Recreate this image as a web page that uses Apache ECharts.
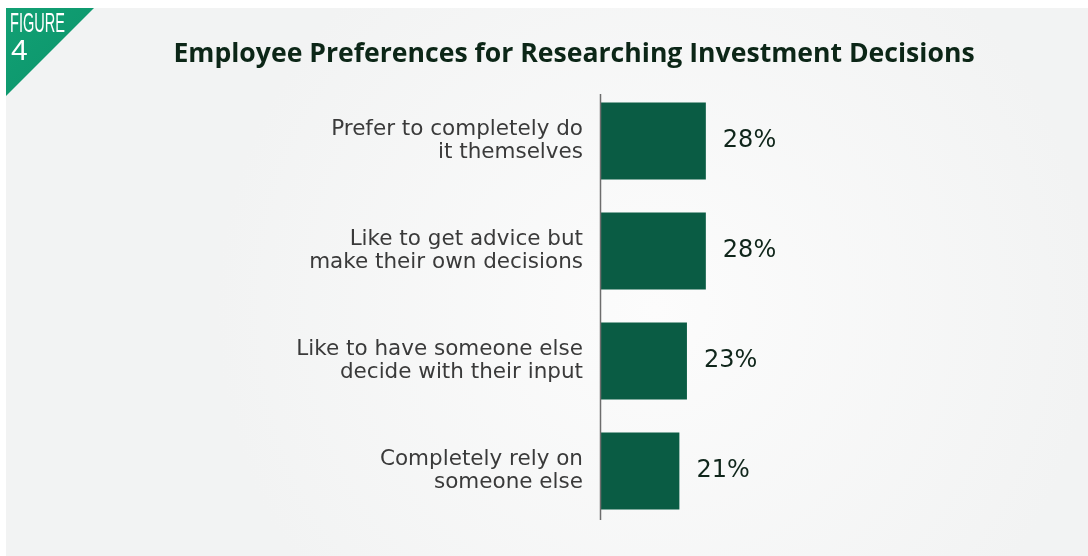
<!DOCTYPE html>
<html>
<head>
<meta charset="utf-8">
<script src="https://cdn.jsdelivr.net/npm/echarts@6/dist/echarts.min.js"></script>
<style>
  html, body { margin: 0; padding: 0; background: #ffffff; }
  #chart { width: 1088px; height: 556px; }
</style>
</head>
<body>
<div id="chart"></div>
<script>
// Survey answers, top to bottom
const categories = [
  'Prefer to completely do\nit themselves',
  'Like to get advice but\nmake their own decisions',
  'Like to have someone else\ndecide with their input',
  'Completely rely on\nsomeone else'
];
const shares = [28, 28, 23, 21];

const chart = echarts.init(document.getElementById('chart'), null, { renderer: 'canvas' });

const option = {
  animation: false,
  backgroundColor: '#ffffff',
  title: {
    text: 'Employee Preferences for Researching Investment Decisions',
    left: 569,
    top: 36,
    textAlign: 'center',
    textStyle: {
      fontFamily: 'Open Sans',
      fontWeight: 'bold',
      fontSize: 26.6,
      color: '#0c2617'
    }
  },
  graphic: [
    {
      type: 'rect',
      silent: true,
      z: -10,
      shape: { x: 6, y: 8, width: 1082, height: 548 },
      style: {
        fill: {
          type: 'radial', x: 0.6, y: 0.55, r: 0.8,
          colorStops: [
            { offset: 0, color: '#fcfcfc' },
            { offset: 1, color: '#f2f3f3' }
          ]
        }
      }
    },
    {
      type: 'polygon',
      silent: true,
      z: 5,
      shape: { points: [[6, 8], [94, 8], [6, 96]] },
      style: {
        fill: {
          type: 'linear', x: 0, y: 0, x2: 1, y2: 1,
          colorStops: [
            { offset: 0, color: '#12a074' },
            { offset: 1, color: '#0b946a' }
          ]
        }
      }
    },
    {
      type: 'text',
      silent: true,
      z: 6,
      x: 10, y: 10,
      scaleX: 0.52,
      style: {
        text: 'FIGURE',
        fontFamily: 'Liberation Sans',
        fontSize: 28,
        fill: '#ffffff'
      }
    },
    {
      type: 'text',
      silent: true,
      z: 6,
      x: 11, y: 37,
      style: {
        text: '4',
        fontFamily: 'Liberation Sans',
        fontSize: 30,
        fill: '#ffffff'
      }
    },
    {
      // vertical baseline of the bars
      type: 'line',
      silent: true,
      z: 10,
      shape: { x1: 600.5, y1: 94, x2: 600.5, y2: 520 },
      style: { stroke: '#6d6d6d', lineWidth: 1.5 }
    }
  ],
  grid: {
    left: 600,
    top: 86,
    width: 378,
    height: 440
  },
  xAxis: {
    type: 'value',
    min: 0,
    max: 100,
    show: false
  },
  yAxis: {
    type: 'category',
    data: categories,
    inverse: true,
    axisLine: { show: false },
    axisTick: { show: false },
    axisLabel: {
      margin: 17,
      align: 'right',
      fontFamily: 'DejaVu Sans',
      fontSize: 21.5,
      lineHeight: 23,
      color: '#3a3a3a',
      padding: [7, 0, 0, 0]
    }
  },
  series: [
    {
      type: 'bar',
      data: shares,
      barWidth: 77,
      itemStyle: { color: '#0a5c44' },
      label: {
        show: true,
        position: 'right',
        distance: 17,
        formatter: '{c}%',
        fontFamily: 'DejaVu Sans',
        fontSize: 24,
        color: '#10261b'
      }
    }
  ]
};

chart.setOption(option);
</script>
</body>
</html>
